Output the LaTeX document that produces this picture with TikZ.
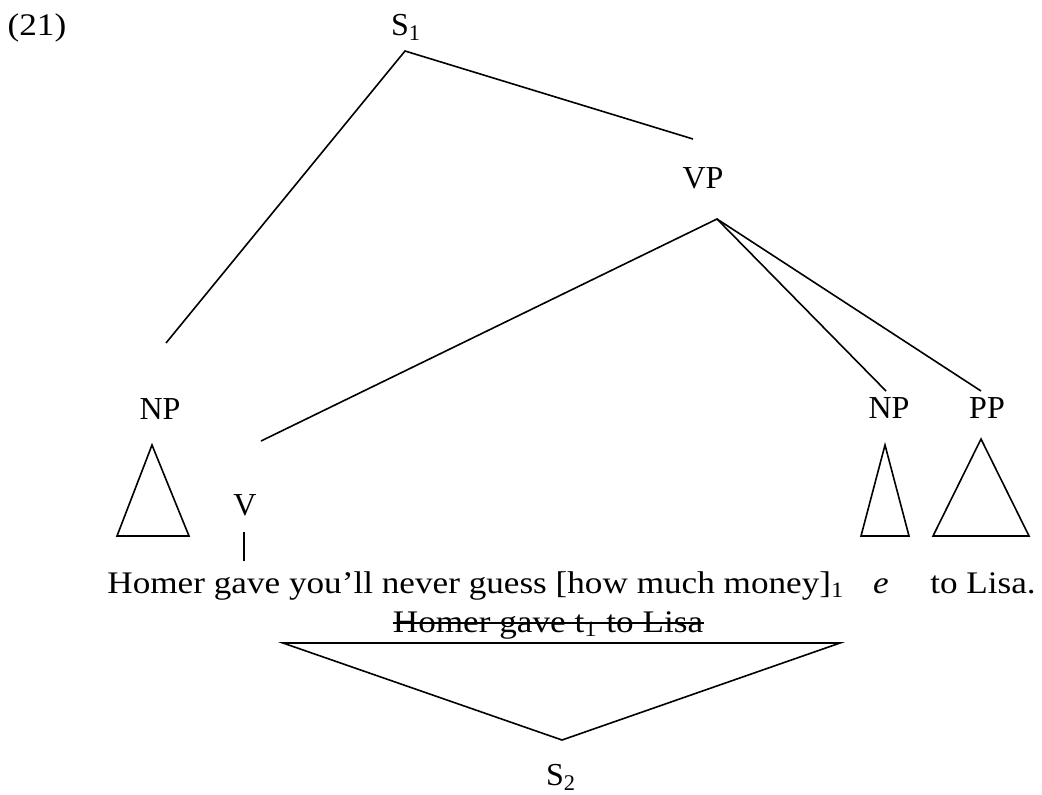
\documentclass[tikz,border=0pt]{standalone}
\usepackage{fontspec}
\setmainfont{Liberation Serif}
\newfontfamily\catfont{Liberation Serif}
\newfontfamily\wordfont[FakeStretch=1.12]{Liberation Serif}
\tikzset{
  cat/.style={font=\catfont\fontsize{16}{18}\selectfont, inner sep=0pt, anchor=base},
  words/.style={font=\wordfont\fontsize{15.7}{18}\selectfont, inner sep=0pt, anchor=base},
  branch/.style={line width=0.8pt}
}
\begin{document}
\begin{tikzpicture}[x=0.5pt,y=-0.5pt]
  \useasboundingbox (0,0) rectangle (1042,794);
  % labels
  \node[words] (ex) at (37,35) {(21)};
  \node[cat] (s1) at (406,35) {S\textsubscript{1}};
  \node[cat] (vp) at (703,188) {VP};
  \node[cat] (np1) at (160,419) {NP};
  \node[cat] (v) at (245,515) {V};
  \node[cat] (np2) at (889,418) {NP};
  \node[cat] (pp) at (987,418) {PP};
  \node[cat] (s2) at (561,785) {S\textsubscript{2}};
  % words
  \node[words,anchor=base west] (sent) at (107,593) {Homer gave you’ll never guess [how much money]\textsubscript{1}};
  \node[words] (gap) at (881,593) {\itshape e};
  \node[words] (lisa) at (983,593) {to Lisa.};
  \node[words] (del) at (548,632) {Homer gave t\textsubscript{1} to Lisa};
  % branch ends
  \coordinate (s1a) at (405,51);
  \coordinate (vpa) at (717,219);
  \coordinate (vpt) at (693,139);
  \coordinate (np1t) at (166,343);
  \coordinate (vt) at (261,441);
  \coordinate (np2t) at (886,391);
  \coordinate (ppt) at (981,391);
  \draw[branch] (np1t) -- (s1a) -- (vpt);
  \draw[branch] (vt) -- (vpa) -- (np2t);
  \draw[branch] (vpa) -- (ppt);
  \draw[branch] (244,532) -- (244,561);
  % triangles
  \draw[branch] (152,445) -- (189,536) -- (117,536) -- cycle;
  \draw[branch] (885,445) -- (909,536) -- (861,536) -- cycle;
  \draw[branch] (981,439) -- (1029,536) -- (933,536) -- cycle;
  \draw[branch] (283,643) -- (840,643) -- (562,740) -- cycle;
  % strike
  \draw[line width=0.8pt] ([yshift=4.5pt]del.base west) -- ([yshift=4.5pt]del.base east);
\end{tikzpicture}
\end{document}
